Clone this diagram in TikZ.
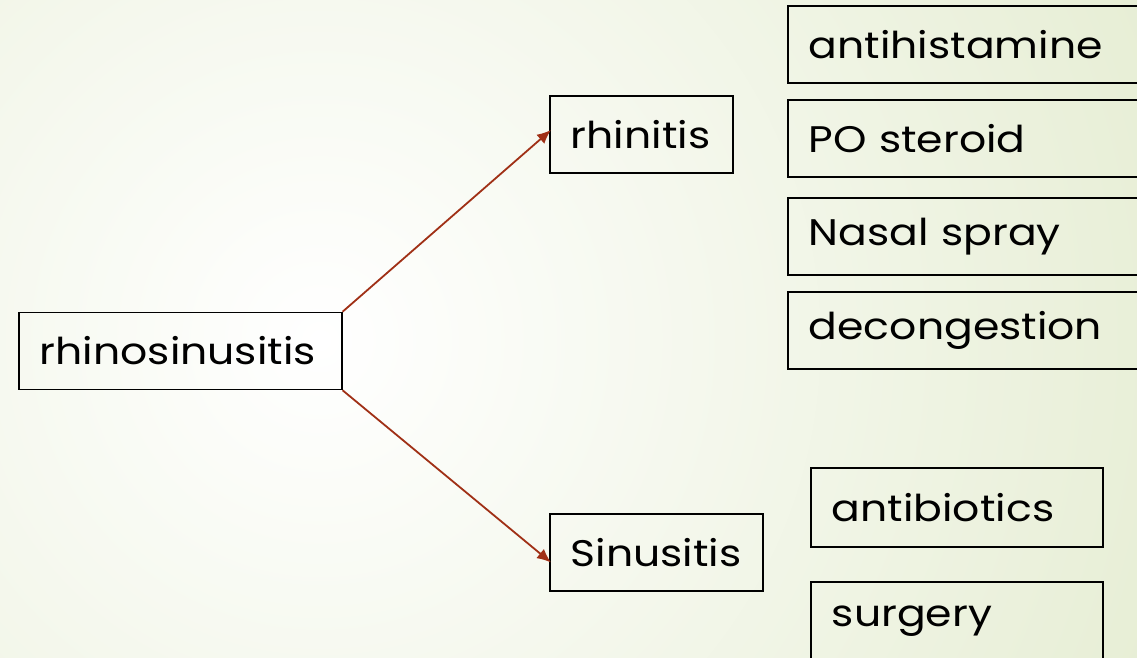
\documentclass[tikz,border=0pt]{standalone}
\usepackage{fontspec}
\setmainfont{Poppins}[FakeStretch=1.15]
\usepackage{tikz}
\usetikzlibrary{positioning, calc, arrows.meta}
\usepackage{xcolor}

\definecolor{arrowred}{RGB}{160,48,22}
\definecolor{bgouter}{RGB}{228,236,208}

\tikzset{
  box/.style={draw=black, line width=1.6pt, anchor=west, align=left,
    inner xsep=21pt, inner ysep=0pt, minimum height=77pt,
    font=\fontsize{37}{42}\selectfont},
  link/.style={draw=arrowred, line width=1.8pt, -{Latex[length=14pt,width=12pt]}}
}

\begin{document}
\begin{tikzpicture}[x=1pt,y=-1pt]
\useasboundingbox (0,0) rectangle (1137,658);
\clip (0,0) rectangle (1137,658);
%background
\shade[inner color=white, outer color=bgouter] (320,340) circle (1000);

%left node
\node[box, text width=281pt] (rs) at (18,351) {rhinosinusitis};
%middle nodes
\node[box, text width=141pt] (rh) at (549,134.5) {rhinitis};
\node[box, text width=171pt] (si) at (549,552.5) {Sinusitis};
%right nodes, upper
\node[box, text width=318pt] (ah) at (787,44.5) {antihistamine};
\node[box, text width=318pt] (po) at (787,138.5) {PO steroid};
\node[box, text width=318pt] (ns) at (787,236.5) {Nasal spray};
\node[box, text width=318pt] (dc) at (787,330.5) {decongestion};
%right nodes, lower
\node[box, text width=250pt, minimum height=79pt] (ab) at (810,507.5) {antibiotics};
\node[box, text width=250pt, minimum height=79pt] (sg) at (810,621.5) {surgery};

%arrows
\draw[link] (rs.north east) -- ($(rh.west)+(2,-4.5)$);
\draw[link] (rs.south east) -- ($(si.west)+(2,10)$);
\end{tikzpicture}
\end{document}
